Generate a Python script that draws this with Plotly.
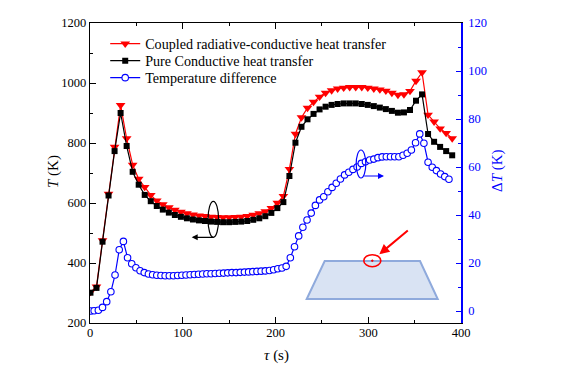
import plotly.graph_objects as go

# temperature curves share one sampling, difference curve has a finer one
time_t = [0.5, 7, 13.5, 20, 26.5, 33, 39.5, 46, 52.5, 59, 65.5, 72, 78.5, 85, 91.5, 98,
          104.5, 111, 117.5, 124, 130.5, 137, 143.5, 150, 156.5, 163, 169.5, 176, 182.5,
          189, 195.5, 202, 208.5, 215, 221.5, 228, 234.5, 241, 247.5, 254, 260.5, 267,
          273.5, 280, 286.5, 293, 299.5, 306, 312.5, 319, 325.5, 332, 338.5, 345, 351.5,
          358, 364.5, 371, 377.5, 384, 390.5]
coupled = [303, 321, 475, 630, 787, 926, 815, 727, 680, 653, 626, 608, 595, 585, 577, 570,
           565, 561, 558, 556, 554, 553, 552, 552, 553, 554, 556, 560, 565, 572, 583, 600,
           623, 713, 830, 885, 917, 937, 954, 967, 975, 981, 984, 986, 986, 986, 984, 981,
           978, 974, 967, 960, 962, 973, 1007, 1035, 894, 871, 848, 833, 815]
conductive = [301, 317, 471, 625, 773, 900, 790, 704, 661, 627, 606, 590, 578, 568, 560, 554,
              549, 545, 542, 540, 538, 537, 536, 536, 537, 538, 540, 544, 549, 556, 567, 583,
              603, 690, 801, 854, 879, 897, 912, 921, 927, 930, 932, 932, 932, 930, 927, 923,
              918, 913, 907, 901, 902, 910, 941, 962, 830, 804, 787, 773, 759]
time_d = [1, 4.5, 9, 13.5, 18, 22.5, 27, 31.5, 36, 40.5, 45, 49.5, 54, 58.5, 63, 67.5, 72,
          76.5, 81, 85.5, 90, 94.5, 99, 103.5, 108, 112.5, 117, 121.5, 126, 130.5, 135, 139.5,
          144, 148.5, 153, 157.5, 162, 166.5, 171, 175.5, 180, 184.5, 189, 193.5, 198, 202.5,
          207, 211.5, 216, 220.5, 225, 229.5, 234, 238.5, 243, 247.5, 252, 256.5, 261, 265.5,
          270, 274.5, 279, 283.5, 288, 292.5, 297, 301.5, 306, 310.5, 315, 319.5, 324, 328.5,
          333, 337.5, 342, 346.5, 351, 355.5, 360, 364.5, 369, 373.5, 378, 382.5, 387]
diff = [0, 0.1, 0.3, 1.5, 3.9, 8, 15, 25.5, 29, 22.2, 19.7, 18, 16.8, 16, 15.4, 15.1, 14.9,
        14.8, 14.7, 14.7, 14.7, 14.8, 14.9, 15, 15.1, 15.2, 15.3, 15.4, 15.5, 15.5, 15.6, 15.7,
        15.8, 15.9, 16, 16, 16.1, 16.2, 16.3, 16.4, 16.5, 16.6, 16.7, 16.9, 17.2, 17.6,
        17.9, 18.6, 22.2, 26.8, 31.3, 34.9, 37.9, 40.8, 44, 46.3, 47.6, 49.7, 51.5, 53.2,
        55, 56.7, 57.8, 59, 60, 61.5, 62.2, 62.9, 63.3, 63.9, 64.2, 64.3, 64.3, 64.3,
        64.3, 64.9, 65.7, 67.1, 70.1, 73.8, 69.9, 62, 59.9, 58.5, 57.1, 56, 54.9]

# the page puts the figure 8px in from the window corner
OFFSET = 8
W, H = 567 - OFFSET, 365 - OFFSET
L, R, T, B = 90, 461, 23, 323
FONT = "Liberation Serif"
BLUE = "#0000FF"


def px(x):
    return (x - L) / (R - L)


def py(y):
    return (B - y) / (B - T)


def ellipse(cx, cy, rx, ry, color, width=1.2, fill="rgba(0,0,0,0)"):
    return dict(type="circle", xref="paper", yref="paper", x0=px(cx - rx), x1=px(cx + rx),
                y0=py(cy + ry), y1=py(cy - ry), fillcolor=fill,
                line=dict(color=color, width=width))


def arrow(x0, y0, x1, y1, color, width=1.2, size=1.0):
    return dict(x=px(x1), y=py(y1), ax=x0 - x1, ay=y0 - y1, xref="paper", yref="paper",
                axref="pixel", ayref="pixel", text="", showarrow=True, arrowhead=2,
                arrowsize=size, arrowwidth=width, arrowcolor=color)


def axis_title(text, x, y, angle=0, color="#000000"):
    return dict(text=text, x=px(x), y=py(y), xref="paper", yref="paper", showarrow=False,
                textangle=angle, xanchor="center", yanchor="middle",
                font=dict(family=FONT, size=15, color=color))


def legend_row(y):
    # one legend per row, plotly's own rows are too tall for this spacing
    return dict(x=0.041, y=py(y), xanchor="left", yanchor="middle", bgcolor="rgba(0,0,0,0)",
                itemwidth=30, font=dict(family=FONT, size=14.1))


fig = go.Figure()
fig.add_trace(go.Scatter(x=time_t, y=coupled, mode="lines+markers", legend="legend",
                         name="Coupled radiative-conductive heat transfer", showlegend=True,
                         line=dict(color="#FF0000", width=1.2),
                         marker=dict(symbol="triangle-down", size=8.5, color="#FF0000")))
fig.add_trace(go.Scatter(x=time_t, y=conductive, mode="lines+markers", legend="legend2",
                         name="Pure Conductive heat transfer", showlegend=True,
                         line=dict(color="#000000", width=1.2),
                         marker=dict(symbol="square", size=6, color="#000000")))
fig.add_trace(go.Scatter(x=time_d, y=diff, mode="lines+markers", yaxis="y2", legend="legend3",
                         name="Temperature difference", showlegend=True,
                         line=dict(color=BLUE, width=1.2),
                         marker=dict(symbol="circle", size=6.5, color="white",
                                     line=dict(color=BLUE, width=1.1))))

shapes = [
    # inset sketch of the plate
    dict(type="path", xref="paper", yref="paper", layer="below",
         path=f"M {px(324.7)} {py(261)} L {px(420)} {py(261)} L {px(437.7)} {py(299)} "
              f"L {px(306.7)} {py(299)} Z",
         fillcolor="#D9E3F3", line=dict(color="#8FAADC", width=2)),
    ellipse(372.3, 260.7, 8.5, 6, "#FF0000", 1.6),
    ellipse(372.3, 260.7, 0.8, 0.8, "#FF0000", 1, fill="#FF0000"),
    # curve markers pointing at their axes
    ellipse(213.3, 219.3, 5.3, 18, "#000000"),
    ellipse(361, 164, 4.8, 14, BLUE),
]
annotations = [
    arrow(215, 237.3, 191.7, 237.3, "#000000"),
    arrow(362.7, 176, 384, 176, BLUE),
    arrow(409.3, 229.3, 379.3, 254.3, "#FF0000", 2),
    axis_title("<i>τ</i> (s)", 276, 355),
    axis_title("<i>T</i> (K)", 53, 172, angle=-90),
    axis_title("Δ<i>T</i> (K)", 497, 170, angle=-90, color=BLUE),
]

fig.update_layout(
    width=W, height=H, autosize=False, showlegend=True,
    margin=dict(l=L - OFFSET, r=W - (R - OFFSET), t=T - OFFSET, b=H - (B - OFFSET),
                autoexpand=False),
    paper_bgcolor="white", plot_bgcolor="white",
    font=dict(family=FONT, size=12.5, color="#000000"),
    shapes=shapes, annotations=annotations,
    legend=legend_row(44), legend2=legend_row(61), legend3=legend_row(78),
    xaxis=dict(range=[0, 400], tick0=0, dtick=100, ticks="inside", ticklen=5.5, tickwidth=1,
               tickcolor="#000000", showgrid=False, zeroline=False, showline=True,
               linecolor="#000000", linewidth=1.3, mirror="ticks", automargin=False,
               ticklabelstandoff=-2,
               minor=dict(dtick=50, tick0=0, ticks="inside", ticklen=3, tickcolor="#000000",
                          tickwidth=1, showgrid=False)),
    yaxis=dict(range=[200, 1200], tick0=200, dtick=200, ticks="inside", ticklen=5.5, tickwidth=1,
               tickcolor="#000000", showgrid=False, zeroline=False, showline=True,
               linecolor="#000000", linewidth=1.3, automargin=False,
               minor=dict(dtick=100, tick0=200, ticks="inside", ticklen=3, tickcolor="#000000",
                          tickwidth=1, showgrid=False)),
    yaxis2=dict(range=[-5, 120], tick0=0, dtick=20, overlaying="y", side="right", anchor="x",
                ticks="inside", ticklen=5.5, tickwidth=1, tickcolor=BLUE, showgrid=False,
                zeroline=False, showline=True, linecolor=BLUE, linewidth=1.5,
                tickfont=dict(color=BLUE), ticklabelstandoff=3, automargin=False,
                minor=dict(dtick=10, tick0=0, ticks="inside", ticklen=3, tickcolor=BLUE,
                           tickwidth=1, showgrid=False)),
)

fig.write_html("out.html")
